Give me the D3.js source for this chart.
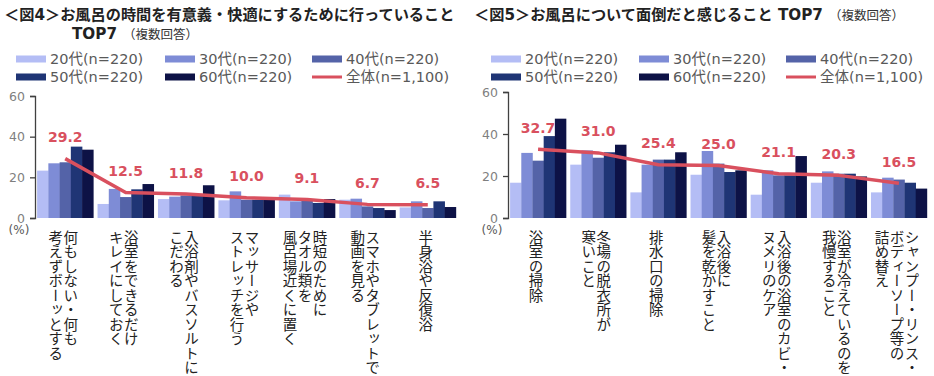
<!DOCTYPE html>
<html>
<head>
<meta charset="utf-8">
<script src="https://cdn.jsdelivr.net/npm/d3@7"></script>
<style>
  body { margin: 0; background: #fff; }
  svg { display: block; font-family: "DejaVu Sans", "Noto Sans CJK JP", sans-serif; }
  .vlabel { writing-mode: vertical-rl; font-family: "Noto Sans CJK JP", sans-serif; }
</style>
</head>
<body>
<div id="chart"></div>
<script>
// --------------------------------------
//  data
// --------------------------------------

const ages = ["20代", "30代", "40代", "50代", "60代"];
const ageColors = ["#b4bdf5", "#7e8cd6", "#5463a8", "#1f3575", "#0d1246"];
const legendLabels = ["20代(n=220)", "30代(n=220)", "40代(n=220)", "50代(n=220)", "60代(n=220)", "全体(n=1,100)"];
const yTicks = [0, 20, 40, 60];

// 図4
const cats4 = [
  ["何もしない・何も", "考えずボーッとする"],
  ["浴室をできるだけ", "キレイにしておく"],
  ["入浴剤やバスソルトに", "こだわる"],
  ["マッサージや", "ストレッチを行う"],
  ["時短のために", "タオル類を", "風呂場近くに置く"],
  ["スマホやタブレットで", "動画を見る"],
  ["半身浴や反復浴"]
];
const byAge4 = [
  [23.3, 26.9, 27.4, 35.1, 33.6],
  [6.9, 14.3, 10.3, 14.1, 16.7],
  [9.3, 10.5, 11.1, 11.0, 16.1],
  [8.7, 13.1, 9.0, 9.0, 8.9],
  [11.5, 8.2, 8.7, 7.4, 9.3],
  [9.0, 9.5, 5.7, 4.9, 3.9],
  [5.2, 8.2, 4.9, 8.2, 5.4]
];
const total4 = [29.2, 12.5, 11.8, 10.0, 9.1, 6.7, 6.5];

// 図5
const cats5 = [
  ["浴室の掃除"],
  ["冬場の脱衣所が", "寒いこと"],
  ["排水口の掃除"],
  ["入浴後に", "髪を乾かすこと"],
  ["入浴後の浴室のカビ・", "ヌメリのケア"],
  ["浴室が冷えているのを", "我慢すること"],
  ["シャンプー・リンス・", "ボディーソープ等の", "詰め替え"]
];
const byAge5 = [
  [16.8, 31.0, 27.3, 39.0, 47.3],
  [25.4, 32.2, 28.7, 31.3, 34.9],
  [12.2, 25.4, 27.8, 27.8, 31.3],
  [20.6, 31.9, 25.9, 21.9, 22.7],
  [11.1, 22.7, 20.3, 20.3, 29.5],
  [16.8, 22.2, 21.1, 21.1, 19.8],
  [12.2, 19.2, 18.3, 16.8, 14.0]
];
const total5 = [32.7, 31.0, 25.4, 25.0, 21.1, 20.3, 16.5];

// --------------------------------------
//  canvas
// --------------------------------------

const width = 934, height = 376;
const svg = d3.select("#chart")
  .append("svg")
    .attr("width", width)
    .attr("height", height)
    .attr("viewBox", [0, 0, width, height]);

const red = "#d9505e";
const grey = "#595959";

function drawChart(opt) {
  const g = svg.append("g");

  // title
  const t = g.append("text")
    .attr("x", opt.titleX)
    .attr("y", 20)
    .attr("font-size", 15.2)
    .attr("font-weight", "bold")
    .attr("fill", "#222");
  t.append("tspan").text(opt.title);
  if (opt.titleTail) {
    t.append("tspan").attr("font-size", 12.5).attr("font-weight", "normal").attr("fill", "#333")
      .attr("dx", 6).text(opt.titleTail);
  }
  if (opt.title2) {
    const t2 = g.append("text")
      .attr("x", opt.title2X)
      .attr("y", 39)
      .attr("font-size", 15.2)
      .attr("font-weight", "bold")
      .attr("fill", "#222");
    t2.append("tspan").text(opt.title2);
    t2.append("tspan").attr("font-size", 12.5).attr("font-weight", "normal").attr("fill", "#333")
      .attr("dx", 6).text("（複数回答）");
  }

  // legend
  const legend = g.selectAll(".legend")
    .data(legendLabels)
    .join("g")
    .attr("transform", (d, i) => `translate(${opt.legendX[i % 3]}, ${i < 3 ? 59 : 77})`);
  legend.append("rect")
    .attr("x", 0)
    .attr("y", (d, i) => i < 5 ? -3.5 : -1.5)
    .attr("width", 30)
    .attr("height", (d, i) => i < 5 ? 7 : 3)
    .attr("fill", (d, i) => i < 5 ? ageColors[i] : red);
  legend.append("text")
    .attr("x", 34)
    .attr("y", 0)
    .attr("dy", "0.36em")
    .attr("font-size", 14.5)
    .attr("fill", grey)
    .text(d => d);

  // scales
  const x = d3.scaleBand()
    .domain(d3.range(opt.cats.length))
    .range([opt.x0, opt.x1])
    .paddingInner(0.07)
    .paddingOuter(0.035);
  const xs = d3.scaleBand()
    .domain(ages)
    .range([0, x.bandwidth()]);
  const y = d3.scaleLinear()
    .domain([0, 60])
    .range([opt.y0, opt.y1]);

  // axis
  const ax = g.append("g")
    .attr("transform", `translate(${opt.x0}, 0)`)
    .call(d3.axisLeft(y).tickValues(yTicks).tickSize(5).tickPadding(5));
  ax.select(".domain").attr("stroke", "#404040").attr("stroke-width", 1.3);
  ax.selectAll(".tick line").attr("stroke", "#404040").attr("stroke-width", 1.3);
  ax.selectAll(".tick text").attr("fill", "#7f7f7f").attr("font-size", 12.5)
    .attr("font-family", "'DejaVu Sans', sans-serif");
  g.append("text")
    .attr("x", opt.x0 - 16)
    .attr("y", opt.y0 + 16)
    .attr("text-anchor", "middle")
    .attr("font-size", 12)
    .attr("fill", grey)
    .text("(%)");

  // bars
  const groups = g.selectAll(".grp")
    .data(opt.byAge)
    .join("g")
    .attr("transform", (d, i) => `translate(${x(i)}, 0)`);
  groups.selectAll("rect")
    .data(d => d)
    .join("rect")
    .attr("x", (d, i) => xs(ages[i]))
    .attr("y", d => y(d))
    .attr("width", xs.bandwidth() + 0.3)
    .attr("height", d => y(0) - y(d))
    .attr("fill", (d, i) => ageColors[i]);

  // total line
  const cx = i => x(i) + x.bandwidth() / 2;
  g.append("path")
    .datum(opt.total)
    .attr("fill", "none")
    .attr("stroke", red)
    .attr("stroke-width", 3.5)
    .attr("stroke-linejoin", "round")
    .attr("d", d3.line().x((d, i) => cx(i)).y(d => y(d)));

  g.selectAll(".val")
    .data(opt.total)
    .join("text")
    .attr("x", (d, i) => cx(i))
    .attr("y", d => y(d) - 16.5)
    .attr("text-anchor", "middle")
    .attr("font-size", 14)
    .attr("font-weight", "bold")
    .attr("fill", red)
    .text(d => d.toFixed(1));

  // category labels (vertical)
  opt.cats.forEach((lines, i) => {
    const n = lines.length;
    lines.forEach((line, j) => {
      g.append("text")
        .attr("class", "vlabel")
        .attr("x", cx(i) - 2 + ((n - 1) / 2 - j) * 15)
        .attr("y", opt.y0 + 12)
        .attr("font-size", 14.5)
        .attr("fill", "#222")
        .text(line);
    });
  });
}

drawChart({
  title: "＜図4＞お風呂の時間を有意義・快適にするために行っていること",
  titleX: 4,
  title2: "TOP7",
  title2X: 72,
  legendX: [16, 165, 312],
  cats: cats4, byAge: byAge4, total: total4,
  x0: 35, x1: 458, y0: 218, y1: 96
});

drawChart({
  title: "＜図5＞お風呂について面倒だと感じること TOP7",
  titleTail: "（複数回答）",
  titleX: 474,
  legendX: [491, 639, 786],
  cats: cats5, byAge: byAge5, total: total5,
  x0: 508, x1: 929, y0: 218, y1: 92
});
</script>
</body>
</html>
